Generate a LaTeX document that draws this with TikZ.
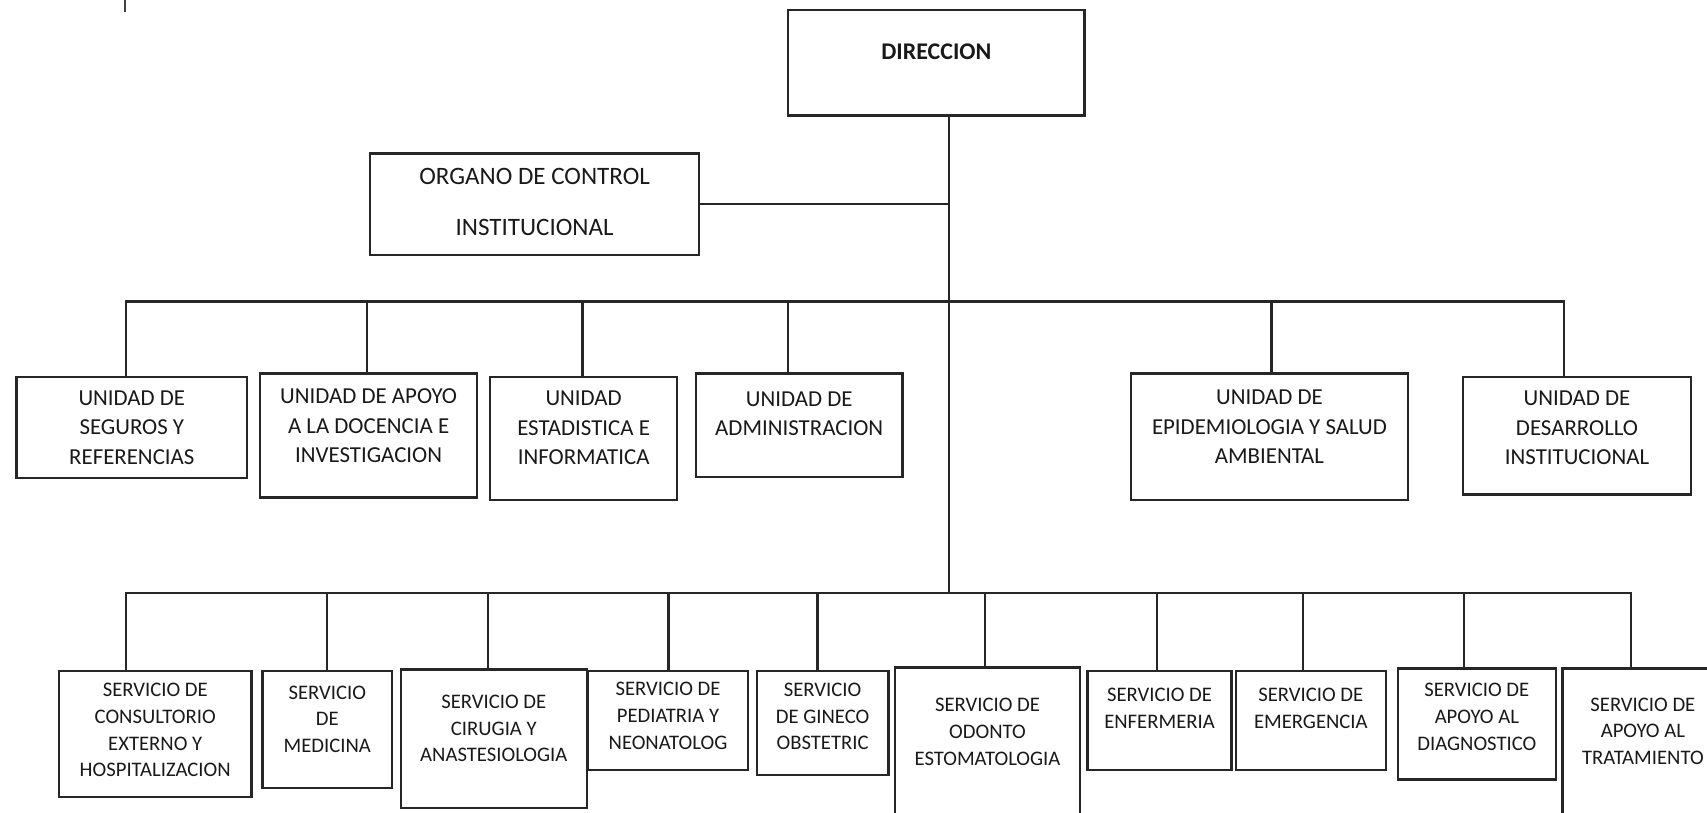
\documentclass[tikz,border=0pt]{standalone}
\usepackage{fontspec}
\setmainfont{Carlito}
\begin{document}
\begin{tikzpicture}[x=1pt,y=-1pt,
  box/.style={draw=black!85,line width=2.2pt,anchor=north west,inner sep=0pt},
  link/.style={draw=black!85,line width=2pt,line cap=rect},
  unit/.style={align=center,text=black!90,font=\fontsize{21}{27}\selectfont},
  serv/.style={align=center,text=black!90,font=\fontsize{19}{24.5}\selectfont}]
\useasboundingbox (0,0) rectangle (1568,746);
\clip (0,0) rectangle (1568,746);
\draw[line width=1.8pt,black!75] (115,0) -- (115,11);
% top
\node[box,minimum width=272pt,minimum height=97pt] (dir) at (723,8) {};
\node[text=black!90,font=\bfseries\fontsize{22}{26}\selectfont] (dir-t) at ([yshift=10.5pt]dir.center) {DIRECCION};
\node[box,minimum width=302pt,minimum height=93pt] (org) at (339,140) {};
\node[align=center,text=black!90,font=\fontsize{23}{47}\selectfont] (org-t) at ([yshift=2pt]org.center) {ORGANO DE CONTROL\\INSTITUCIONAL};
% unidades
\node[box,minimum width=212pt,minimum height=93pt] (u1) at (14,345) {};
\node[box,minimum width=199pt,minimum height=114pt] (u2) at (238,342) {};
\node[box,minimum width=172pt,minimum height=113pt] (u3) at (449,345) {};
\node[box,minimum width=190pt,minimum height=95pt] (u4) at (638,342) {};
\node[box,minimum width=254pt,minimum height=116pt] (u5) at (1038,342) {};
\node[box,minimum width=209pt,minimum height=108pt] (u6) at (1343,345) {};
\node[unit] (u1-t) at (u1.center) {UNIDAD DE\\SEGUROS Y\\REFERENCIAS};
\node[unit] (u2-t) at ([yshift=9pt]u2.center) {UNIDAD DE APOYO\\A LA DOCENCIA E\\INVESTIGACION};
\node[unit] (u3-t) at ([yshift=9.5pt]u3.center) {UNIDAD\\ESTADISTICA E\\INFORMATICA};
\node[unit] (u4-t) at ([yshift=10.5pt]u4.center) {UNIDAD DE\\ADMINISTRACION};
\node[unit] (u5-t) at ([yshift=9pt]u5.center) {UNIDAD DE\\EPIDEMIOLOGIA Y SALUD\\AMBIENTAL};
\node[unit] (u6-t) at ([yshift=7pt]u6.center) {UNIDAD DE\\DESARROLLO\\INSTITUCIONAL};
% servicios
\node[box,minimum width=177pt,minimum height=116pt] (s1) at (53,615) {};
\node[box,minimum width=119pt,minimum height=108pt] (s2) at (240,615) {};
\node[box,minimum width=171pt,minimum height=127pt] (s3) at (367,614) {};
\node[box,minimum width=147pt,minimum height=91pt] (s4) at (539,615) {};
\node[box,minimum width=121pt,minimum height=96pt] (s5) at (694,615) {};
\node[box,minimum width=170pt,minimum height=150pt] (s6) at (821,612) {};
\node[box,minimum width=132pt,minimum height=91pt] (s7) at (998,615) {};
\node[box,minimum width=138pt,minimum height=91pt] (s8) at (1134,615) {};
\node[box,minimum width=145pt,minimum height=102pt] (s9) at (1283,613) {};
\node[box,minimum width=148pt,minimum height=147pt] (s10) at (1434,613) {};
\node[serv] (s1-t) at ([yshift=3.5pt]s1.center) {SERVICIO DE\\CONSULTORIO\\EXTERNO Y\\HOSPITALIZACION};
\node[serv] (s2-t) at ([yshift=9.5pt]s2.center) {SERVICIO\\DE\\MEDICINA};
\node[serv] (s3-t) at ([yshift=9.5pt]s3.center) {SERVICIO DE\\CIRUGIA Y\\ANASTESIOLOGIA};
\node[serv] (s4-t) at ([yshift=4pt]s4.center) {SERVICIO DE\\PEDIATRIA Y\\NEONATOLOG};
\node[serv] (s5-t) at ([yshift=6pt]s5.center) {SERVICIO\\DE GINECO\\OBSTETRIC};
\node[serv] (s6-t) at ([yshift=16pt]s6.center) {SERVICIO DE\\ODONTO\\ESTOMATOLOGIA};
\node[serv] (s7-t) at ([yshift=11pt]s7.center) {SERVICIO DE\\ENFERMERIA};
\node[serv] (s8-t) at ([yshift=11pt]s8.center) {SERVICIO DE\\EMERGENCIA};
\node[serv] (s9-t) at ([yshift=6.5pt]s9.center) {SERVICIO DE\\APOYO AL\\DIAGNOSTICO};
\node[serv] (s10-t) at ([yshift=16pt]s10.center) {SERVICIO DE\\APOYO AL\\TRATAMIENTO};
% lineas
\coordinate (bus1) at (872,277);
\coordinate (bus2) at (872,545);
\draw[link] (dir.south -| bus2) -- (bus2);
\draw[link] (org.east) -- (org.east -| bus2);
\draw[link] (bus1 -| 116,0) -- (bus1 -| 1437,0);
\foreach \n/\x in {u1/116,u2/337,u3/535,u4/724,u5/1168,u6/1437}
  \draw[link] (bus1 -| \x,0) -- (\n.north -| \x,0);
\draw[link] (bus2 -| 116,0) -- (bus2 -| 1498,0);
\foreach \n/\x in {s1/116,s2/300,s3/448,s4/614,s5/751,s6/905,s7/1063,s8/1197,s9/1345,s10/1498}
  \draw[link] (bus2 -| \x,0) -- (\n.north -| \x,0);
\end{tikzpicture}
\end{document}
